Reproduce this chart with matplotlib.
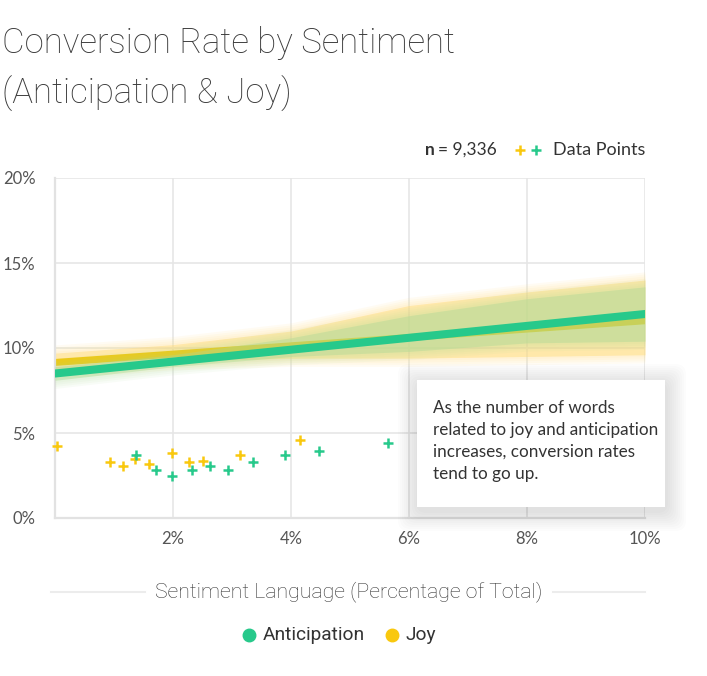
import matplotlib
matplotlib.use("Agg")
import matplotlib.pyplot as plt
from matplotlib.patches import FancyBboxPatch
from matplotlib.lines import Line2D
import numpy as np

# ---------------- data ----------------
title_lines = ["Conversion Rate by Sentiment", "(Anticipation & Joy)"]
x_label = "Sentiment Language (Percentage of Total)"
series_names = ["Anticipation", "Joy"]
colors = {"Anticipation": "#27c98b", "Joy": "#f9c80e"}

antic_x = [1.37, 1.71, 1.98, 2.33, 2.62, 2.93, 3.35, 3.90, 4.48, 5.65]
antic_y = [3.71, 2.84, 2.47, 2.84, 3.08, 2.84, 3.29, 3.69, 3.94, 4.41]
joy_x = [0.03, 0.93, 1.15, 1.35, 1.59, 1.99, 2.27, 2.50, 3.14, 4.15]
joy_y = [4.25, 3.31, 3.08, 3.45, 3.18, 3.82, 3.31, 3.33, 3.69, 4.61]

trend_x = [0, 2, 4, 6, 8, 10]
antic_trend = [8.5, 9.2, 9.9, 10.6, 11.3, 12.0]
antic_lo = [8.1, 8.9, 9.5, 9.8, 10.3, 10.4]
antic_hi = [8.9, 9.6, 10.6, 11.9, 12.9, 13.6]
joy_trend = [9.15, 9.64, 10.13, 10.62, 11.11, 11.6]
joy_lo = [8.7, 9.2, 9.4, 9.4, 9.5, 9.6]
joy_hi = [9.7, 10.2, 11.0, 12.5, 13.3, 14.0]

x_ticks = [2, 4, 6, 8, 10]
y_ticks = [0, 5, 10, 15, 20]
n_text = "9,336"
note = ("As the number of words\nrelated to joy and anticipation\n"
        "increases, conversion rates\ntend to go up.")

# ---------------- layout ----------------
W, H = 707, 676
fig = plt.figure(figsize=(W / 100, H / 100), dpi=100)

def fx(px):
    return px / W

def fy(py):
    return 1 - py / H

ax_l, ax_r, ax_t, ax_b = 55, 645, 178, 518
ax = fig.add_axes([fx(ax_l), fy(ax_b), fx(ax_r) - fx(ax_l), (ax_b - ax_t) / H])
ax.set_xlim(0, 10)
ax.set_ylim(0, 20)

body_font = "Lato"
cond_font = "Roboto"

# grid
for xv in x_ticks:
    ax.axvline(xv, color="#e6e6e6", lw=1.2, zorder=0)
for yv in y_ticks[1:]:
    ax.axhline(yv, color="#e6e6e6", lw=1.2, zorder=0)
for s in ["top", "right"]:
    ax.spines[s].set_visible(False)
for s in ["left", "bottom"]:
    ax.spines[s].set_color("#e2e2e2")
    ax.spines[s].set_linewidth(1.6)
ax.tick_params(length=0)
ax.set_xticks(x_ticks)
ax.set_xticklabels([f"{v}%" for v in x_ticks], fontsize=12, color="#555555",
                   family=body_font)
ax.set_yticks(y_ticks)
ax.set_yticklabels([f"{v}%" for v in y_ticks], fontsize=12, color="#555555",
                   family=body_font)
ax.tick_params(axis="x", pad=9)
ax.tick_params(axis="y", pad=14)

tx = np.array(trend_x, dtype=float)

def fuzzy_band(lo, hi, color, base_alpha, zo):
    lo = np.array(lo)
    hi = np.array(hi)
    ax.fill_between(tx, lo, hi, color=color, alpha=base_alpha, lw=0, zorder=zo)
    for k in range(1, 5):
        d = 0.12 * k
        ax.fill_between(tx, lo - d, hi + d, color=color, alpha=base_alpha * 0.18,
                        lw=0, zorder=zo)

# joy band + line, then anticipation band + line
fuzzy_band(joy_lo, joy_hi, "#ffe08a", 0.55, 1)
ax.plot(tx, joy_trend, color="#f2c80f", lw=5.0, solid_capstyle="round", zorder=2)
fuzzy_band(antic_lo, antic_hi, "#acdc94", 0.42, 3)
ax.plot(tx, antic_trend, color=colors["Anticipation"], lw=5.8,
        solid_capstyle="round", zorder=4)

# scatter points
ax.plot(joy_x, joy_y, ls="none", marker="+", ms=7, mew=1.8, color=colors["Joy"],
        zorder=5, clip_on=False)
ax.plot(antic_x, antic_y, ls="none", marker="+", ms=7, mew=1.8,
        color=colors["Anticipation"], zorder=6, clip_on=False)

# ---------------- title ----------------
fig.text(fx(2), fy(43), title_lines[0], fontsize=25, family=cond_font,
         weight="light", color="#3a3a3a", va="center", ha="left")
fig.text(fx(2), fy(94), title_lines[1], fontsize=25, family=cond_font,
         weight="light", color="#3a3a3a", va="center", ha="left")

# n = 9,336 ++ Data Points
fig.text(fx(425), fy(150), "n", fontsize=12.5, family=body_font, weight="bold",
         color="#333333", va="center", ha="left")
fig.text(fx(438), fy(150), "= " + n_text, fontsize=12.5, family=body_font,
         color="#333333", va="center", ha="left")
fig.add_artist(Line2D([fx(520)], [fy(150)], marker="+", ms=6.5, mew=1.8,
                      color=colors["Joy"], transform=fig.transFigure))
fig.add_artist(Line2D([fx(536)], [fy(150)], marker="+", ms=6.5, mew=1.8,
                      color=colors["Anticipation"], transform=fig.transFigure))
fig.text(fx(645), fy(150), "Data Points", fontsize=13, family=body_font,
         color="#333333", va="center", ha="right")

# x label with side rules
fig.text(fx(349), fy(592), x_label, fontsize=15.3, family=cond_font,
         weight="light", color="#333333", va="center", ha="center")
fig.add_artist(Line2D([fx(51), fx(145)], [fy(592), fy(592)], color="#ececec",
                      lw=1.5, transform=fig.transFigure))
fig.add_artist(Line2D([fx(553), fx(645)], [fy(592), fy(592)], color="#ececec",
                      lw=1.5, transform=fig.transFigure))

# legend
fig.add_artist(Line2D([fx(249)], [fy(635)], marker="o", ms=9, lw=0,
                      color=colors["Anticipation"], transform=fig.transFigure))
fig.text(fx(263), fy(635), series_names[0], fontsize=13.8, family=cond_font,
         color="#333333", va="center", ha="left")
fig.add_artist(Line2D([fx(392)], [fy(635)], marker="o", ms=9, lw=0,
                      color=colors["Joy"], transform=fig.transFigure))
fig.text(fx(405), fy(635), series_names[1], fontsize=13.8, family=cond_font,
         color="#333333", va="center", ha="left")

# annotation box with soft shadow
bx0, bx1, by0, by1 = 417, 665, 380, 507
for k in range(10, 0, -1):
    pad = k * 2.0
    sh = FancyBboxPatch((fx(bx0 - pad + 1), fy(by1 + pad + 4)),
                        fx(bx1 - bx0 + 2 * pad), (by1 - by0 + 2 * pad) / H,
                        boxstyle="round,pad=0,rounding_size=0.015",
                        transform=fig.transFigure, facecolor="#000000",
                        edgecolor="none", alpha=0.01, zorder=10)
    fig.add_artist(sh)
box = FancyBboxPatch((fx(bx0), fy(by1)), fx(bx1 - bx0), (by1 - by0) / H,
                     boxstyle="square,pad=0", transform=fig.transFigure,
                     facecolor="white", edgecolor="none", zorder=11)
fig.add_artist(box)
fig.text(fx(433), fy(400), note, fontsize=12.3, family=body_font,
         color="#333333", va="top", ha="left", linespacing=1.45, zorder=12)

fig.savefig("out.png", dpi=100)
